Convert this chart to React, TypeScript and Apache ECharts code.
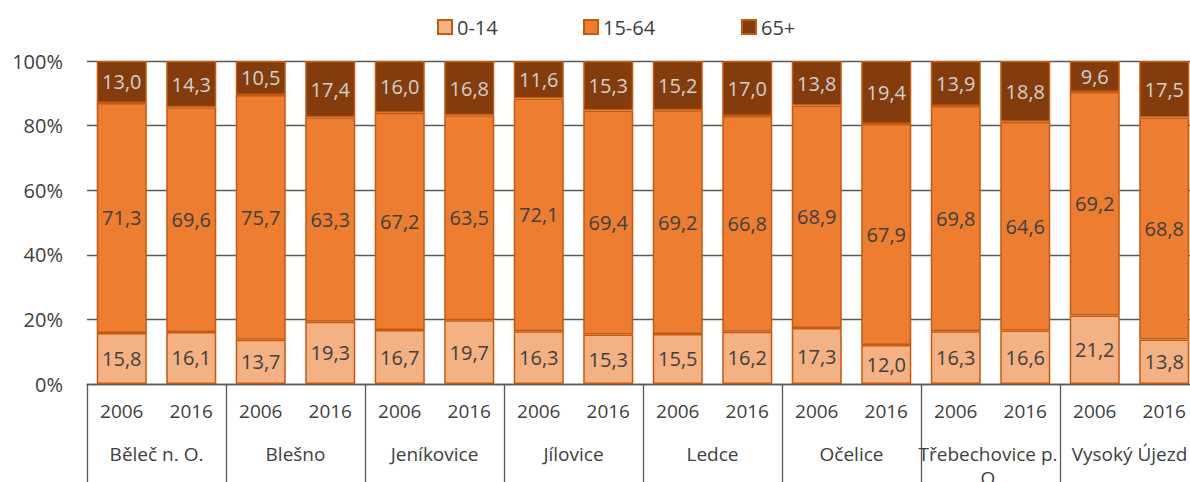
import React, { useEffect, useRef } from "react";
import * as echarts from "echarts";

const groups = ["Běleč n. O.", "Blešno", "Jeníkovice", "Jílovice", "Ledce", "Očelice", "Třebechovice p. O.", "Vysoký Újezd"];
const years = ["2006", "2016"];
const seriesNames = ["0-14", "15-64", "65+"];
const age0_14 = [15.8, 16.1, 13.7, 19.3, 16.7, 19.7, 16.3, 15.3, 15.5, 16.2, 17.3, 12.0, 16.3, 16.6, 21.2, 13.8];
const age15_64 = [71.3, 69.6, 75.7, 63.3, 67.2, 63.5, 72.1, 69.4, 69.2, 66.8, 68.9, 67.9, 69.8, 64.6, 69.2, 68.8];
const age65 = [13.0, 14.3, 10.5, 17.4, 16.0, 16.8, 11.6, 15.3, 15.2, 17.0, 13.8, 19.4, 13.9, 18.8, 9.6, 17.5];
const yTicks = [0, 20, 40, 60, 80, 100];

const FONT = "Open Sans";

export default function App() {
  const ref = useRef<HTMLDivElement>(null);
  useEffect(() => {
    if (!ref.current) return;
    const chart = echarts.init(ref.current, undefined, { renderer: "svg" });
    const yearCats: string[] = [];
    groups.forEach(() => years.forEach((y) => yearCats.push(y)));
    const raw = [age0_14, age15_64, age65];
    const totals = age0_14.map((_, i) => age0_14[i] + age15_64[i] + age65[i]);
    const fills = ["#F4B183", "#ED7D31", "#843C0C"];
    const labelColors = ["#404040", "#404040", "#D0D0D0"];
    const legendLeft = [437, 583, 741];
    const fmt = (v: number) => v.toFixed(1).replace(".", ",");
    chart.setOption({
      animation: false,
      textStyle: { fontFamily: FONT },
      legend: seriesNames.map((n, i) => ({
        top: 17,
        left: legendLeft[i],
        itemWidth: 14,
        itemHeight: 14,
        itemGap: 5,
        icon: "rect",
        padding: 0,
        textStyle: { fontSize: 20, color: "#404040", fontFamily: FONT },
        data: [n],
      })),
      grid: { left: 87, right: 1, top: 61, bottom: 98, outerBoundsMode: "none", containLabel: false },
      yAxis: {
        type: "value",
        min: 0,
        max: 100,
        interval: 20,
        axisLine: { show: false },
        axisTick: { show: false },
        axisLabel: {
          formatter: (v: number) => (yTicks.includes(v) ? v + "%" : ""),
          fontSize: 20,
          color: "#404040",
          margin: 24,
          fontFamily: FONT,
        },
        splitLine: { lineStyle: { color: "#595959", width: 1.3 } },
      },
      xAxis: [
        {
          type: "category",
          data: yearCats,
          position: "bottom",
          axisLine: { show: true, lineStyle: { color: "#595959", width: 1.3 } },
          axisTick: { show: false },
          axisLabel: { fontSize: 19, color: "#404040", margin: 17, fontFamily: FONT, interval: 0 },
        },
        {
          type: "category",
          data: groups,
          position: "bottom",
          axisLine: { show: false },
          axisTick: { show: true, length: 110, lineStyle: { color: "#595959", width: 1.3 } },
          axisLabel: {
            fontSize: 19,
            color: "#404040",
            margin: 58,
            fontFamily: FONT,
            interval: 0,
            width: 162,
            overflow: "break",
            lineHeight: 24,
          },
        },
      ],
      series: seriesNames.map((name, s) => ({
        name,
        type: "bar",
        stack: "total",
        xAxisIndex: 0,
        barCategoryGap: "28%",
        itemStyle: { color: fills[s], borderColor: "#C55A11", borderWidth: 1.5 },
        label: {
          show: true,
          position: "inside",
          fontSize: 20,
          color: labelColors[s],
          fontFamily: FONT,
          formatter: (p: any) => fmt(raw[s][p.dataIndex]),
        },
        data: raw[s].map((v, i) => (v / totals[i]) * 100),
      })),
    });
    return () => chart.dispose();
  }, []);
  return (
    <div style={{ width: 1190, height: 482, position: "absolute", left: 0, top: 0, overflow: "hidden" }}>
      <div ref={ref} style={{ width: 1200, height: 482 }} />
    </div>
  );
}
